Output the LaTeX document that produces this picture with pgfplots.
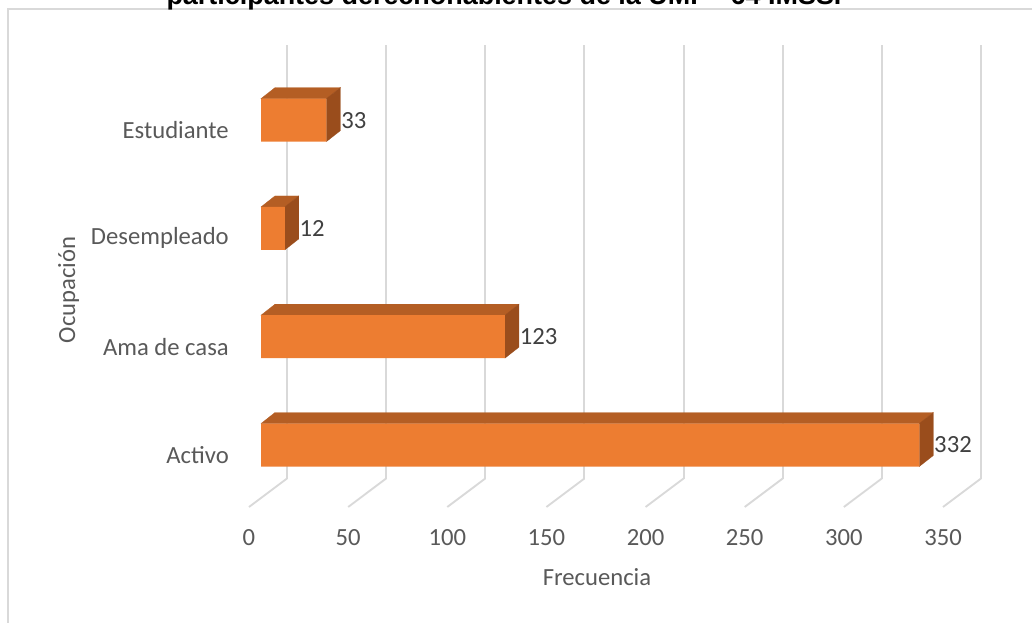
\documentclass[border=0pt]{standalone}
\usepackage{pgfplots}
\pgfplotsset{compat=1.18}
\usepackage{fontspec}
\setmainfont{Carlito}
\newfontfamily\titlefont{Liberation Sans}
\definecolor{front}{HTML}{ED7D31}
\definecolor{topf}{HTML}{B45E24}
\definecolor{sidef}{HTML}{9A4D1C}
\definecolor{gridc}{HTML}{D9D9D9}
\definecolor{labc}{HTML}{595959}
\definecolor{datac}{HTML}{404040}
\newcommand\lab{\fontsize{18.5pt}{22pt}\selectfont}
\begin{document}
\begin{tikzpicture}
\path[use as bounding box] (0,0) rectangle (774pt,466.5pt);
\draw[gridc, line width=1.5pt] (800pt,459.75pt) -- (6pt,459.75pt) -- (6pt,-10pt);
\node[anchor=base, font=\titlefont\bfseries\fontsize{20.2pt}{24pt}\selectfont] at (378pt,463.3pt) {participantes derechohabientes de la UMF - 64 IMSS.};
\begin{axis}[
  at={(186.75pt,86.25pt)}, anchor=south west,
  scale only axis, width=520.5pt, height=324.9pt,
  xmin=0, xmax=350, ymin=-0.48, ymax=3.52,
  clip=false,
  axis line style={draw=none},
  major tick length=0pt,
  xtick={0,50,...,350},
  ytick={0,1,2,3},
  yticklabels={Activo,Ama de casa,Desempleado,Estudiante},
  /pgf/number format/assume math mode=true,
  tick label style={font=\lab, text=labc},
  xticklabel style={anchor=north, inner sep=0pt, yshift=-16.5pt},
  yticklabel style={anchor=east, inner sep=0pt, xshift=-15pt},
  xmajorgrids,
  major grid style={gridc, line width=1.4pt, xshift=28.5pt, yshift=21.375pt},
]
% floor lines
\addplot[gridc, line width=1.4pt, unbounded coords=jump] coordinates {
 (0,-0.48) (19.16,-0.2168) (nan,nan)
 (50,-0.48) (69.16,-0.2168) (nan,nan)
 (100,-0.48) (119.16,-0.2168) (nan,nan)
 (150,-0.48) (169.16,-0.2168) (nan,nan)
 (200,-0.48) (219.16,-0.2168) (nan,nan)
 (250,-0.48) (269.16,-0.2168) (nan,nan)
 (300,-0.48) (319.16,-0.2168) (nan,nan)
 (350,-0.48) (369.16,-0.2168)
};
% bar top faces
\addplot[fill=topf, draw=topf, line width=0.2pt, xshift=9pt, yshift=7.5pt] coordinates {(0,0.1985) (332,0.1985) (339.06,0.3001) (7.06,0.3001)} --cycle;
\addplot[fill=topf, draw=topf, line width=0.2pt, xshift=9pt, yshift=7.5pt] coordinates {(0,1.1985) (123,1.1985) (130.06,1.3001) (7.06,1.3001)} --cycle;
\addplot[fill=topf, draw=topf, line width=0.2pt, xshift=9pt, yshift=7.5pt] coordinates {(0,2.1985) (12,2.1985) (19.06,2.3001) (7.06,2.3001)} --cycle;
\addplot[fill=topf, draw=topf, line width=0.2pt, xshift=9pt, yshift=7.5pt] coordinates {(0,3.1985) (33,3.1985) (40.06,3.3001) (7.06,3.3001)} --cycle;
% bar side faces
\addplot[fill=sidef, draw=sidef, line width=0.2pt, xshift=9pt, yshift=7.5pt] coordinates {(332,-0.1985) (332,0.1985) (339.06,0.3001) (339.06,-0.0969)} --cycle;
\addplot[fill=sidef, draw=sidef, line width=0.2pt, xshift=9pt, yshift=7.5pt] coordinates {(123,0.8015) (123,1.1985) (130.06,1.3001) (130.06,0.9031)} --cycle;
\addplot[fill=sidef, draw=sidef, line width=0.2pt, xshift=9pt, yshift=7.5pt] coordinates {(12,1.8015) (12,2.1985) (19.06,2.3001) (19.06,1.9031)} --cycle;
\addplot[fill=sidef, draw=sidef, line width=0.2pt, xshift=9pt, yshift=7.5pt] coordinates {(33,2.8015) (33,3.1985) (40.06,3.3001) (40.06,2.9031)} --cycle;
% bar front faces
\addplot[xbar, fill=front, draw=none, bar width=32.25pt, xshift=9pt, yshift=7.5pt,
  nodes near coords, every node near coord/.append style={font=\lab, text=datac, anchor=west, inner sep=0pt, xshift=11pt},
  /pgf/number format/assume math mode=true]
  coordinates {(332,0) (123,1) (12,2) (33,3)};
\end{axis}
\node[font=\lab, text=labc, rotate=90] at (51.5pt,249pt) {Ocupación};
\node[font=\lab, text=labc] at (447.75pt,33.75pt) {Frecuencia};
\end{tikzpicture}
\end{document}
